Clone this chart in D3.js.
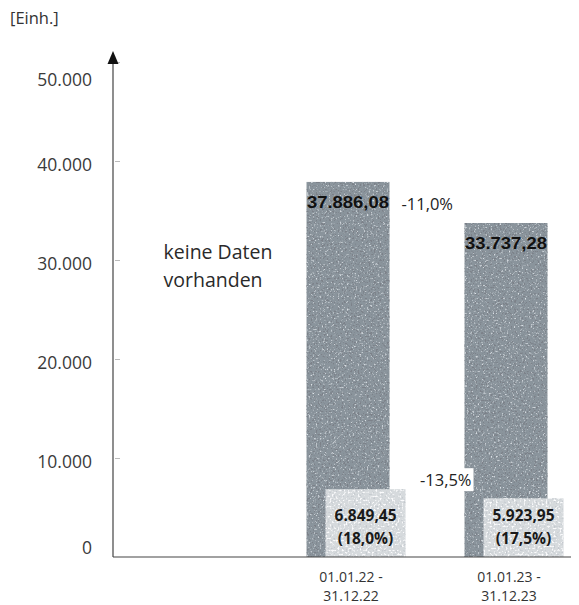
<!DOCTYPE html>
<html>
<head>
<meta charset="utf-8">
<script src="https://cdn.jsdelivr.net/npm/d3@7"></script>
<style>
  html, body { margin: 0; padding: 0; background: #fff; }
  svg { display: block; font-family: "Open Sans", "DejaVu Sans", sans-serif; }
</style>
</head>
<body>
<svg id="chart" width="579" height="605"></svg>
<script>
// Zeiträume (erster ohne Daten)
const categories = ["ohne", "01.01.22 - 31.12.22", "01.01.23 - 31.12.23"];
const totals = [null, 37886.08, 33737.28];
const subValues = [null, 6849.45, 5923.95];
const shareLabels = [null, "(18,0%)", "(17,5%)"];
const totalChange = "-11,0%";
const subChange = "-13,5%";
const noDataText = ["keine Daten", "vorhanden"];
const yTicks = [0, 10000, 20000, 30000, 40000, 50000];
const unitLabel = "[Einh.]";

const de = d3.formatLocale({ decimal: ",", thousands: ".", grouping: [3], currency: ["", " €"] });
const fmtTick = de.format(",.0f");
const fmtVal = de.format(",.2f");

const svg = d3.select("#chart");
const x0 = 113, y0 = 557;

const x = d3.scaleBand().domain(categories).range([111, 585])
  .paddingInner(0.475).paddingOuter(0.2375);
const y = d3.scaleLinear().domain([0, 50000]).range([y0, 62]);
const bw = x.bandwidth();

// speckle filters for the printed look of the bars
const defs = svg.append("defs");
function grain(id, freq, seed, dark, darkA, light, lightA) {
  const f = defs.append("filter").attr("id", id).attr("x", 0).attr("y", 0).attr("width", 1).attr("height", 1);
  f.append("feTurbulence").attr("type", "fractalNoise").attr("baseFrequency", freq)
    .attr("numOctaves", 2).attr("seed", seed).attr("result", "noise");
  f.append("feColorMatrix").attr("in", "noise").attr("type", "matrix")
    .attr("values", `0 0 0 0 ${dark[0]}  0 0 0 0 ${dark[1]}  0 0 0 0 ${dark[2]}  ${darkA[0]} 0 0 0 ${darkA[1]}`).attr("result", "d");
  f.append("feColorMatrix").attr("in", "noise").attr("type", "matrix")
    .attr("values", `0 0 0 0 ${light[0]}  0 0 0 0 ${light[1]}  0 0 0 0 ${light[2]}  0 ${lightA[0]} 0 0 ${lightA[1]}`).attr("result", "l");
  f.append("feComposite").attr("in", "d").attr("in2", "SourceGraphic").attr("operator", "in").attr("result", "dIn");
  f.append("feComposite").attr("in", "l").attr("in2", "SourceGraphic").attr("operator", "in").attr("result", "lIn");
  const m = f.append("feMerge");
  m.append("feMergeNode").attr("in", "SourceGraphic");
  m.append("feMergeNode").attr("in", "lIn");
  m.append("feMergeNode").attr("in", "dIn");
}
grain("grainBar", 0.55, 7, [0.2, 0.22, 0.25], [9, -5.2], [0.72, 0.76, 0.8], [4, -2.4]);
grain("grainBox", 0.5, 3, [0.55, 0.58, 0.62], [6, -3.5], [0.97, 0.97, 0.98], [5, -2.6]);

const data = categories.map((c, i) => ({ c, total: totals[i], sub: subValues[i], share: shareLabels[i] }));
const withData = data.filter(d => d.total != null);

// main bars
svg.append("g").selectAll("rect").data(withData).join("rect")
  .attr("x", d => x(d.c)).attr("width", bw)
  .attr("y", d => y(d.total)).attr("height", d => y(0) - y(d.total))
  .attr("fill", "#8a949c").attr("filter", "url(#grainBar)");

// sub-value boxes
const subOff = 19, subW = 80;
svg.append("g").selectAll("rect").data(withData).join("rect")
  .attr("x", d => x(d.c) + subOff).attr("width", subW)
  .attr("y", d => y(d.sub)).attr("height", d => y(0) - y(d.sub))
  .attr("fill", "#d6dadd").attr("filter", "url(#grainBox)");

// y axis
const yAxis = d3.axisLeft(y).tickValues(yTicks).tickFormat(fmtTick).tickSize(0).tickPadding(21);
const ga = svg.append("g").attr("transform", `translate(${x0},0)`).call(yAxis);
ga.select(".domain").remove();
ga.selectAll("text").attr("font-size", 17.5).attr("fill", "#3a3a3a")
  .attr("font-family", "'Open Sans', sans-serif")
  .attr("dy", d => d === 0 ? "-0.2em" : d === 50000 ? "1.35em" : "0.55em");
ga.selectAll(".tick").filter(d => d > 0).append("line")
  .attr("x1", 2).attr("x2", 7).attr("stroke", "#bbb").attr("stroke-width", 1);

// axis lines
svg.append("line").attr("x1", x0).attr("x2", x0).attr("y1", y0).attr("y2", 60)
  .attr("stroke", "#444").attr("stroke-width", 1.2);
svg.append("line").attr("x1", x0).attr("x2", 571).attr("y1", y0).attr("y2", y0)
  .attr("stroke", "#444").attr("stroke-width", 1.2);
svg.append("path").attr("d", `M${x0},51 L${x0 - 5.5},64 L${x0 + 5.5},64 Z`).attr("fill", "#111");

svg.append("text").attr("x", 10).attr("y", 24).attr("font-size", 16.5).attr("fill", "#333").text(unitLabel);

// category labels
const gx = svg.append("g");
withData.forEach(d => {
  const parts = d.c.split(" - ");
  const cx = x(d.c) + bw / 2 + 3;
  gx.append("text").attr("x", cx).attr("y", 582).attr("text-anchor", "middle")
    .attr("font-size", 14).attr("fill", "#333").text(parts[0] + " -");
  gx.append("text").attr("x", cx).attr("y", 601).attr("text-anchor", "middle")
    .attr("font-size", 14).attr("fill", "#333").text(parts[1]);
});

// empty period note
const empty = data.find(d => d.total == null);
noDataText.forEach((t, i) => {
  svg.append("text").attr("x", x(empty.c) + 15).attr("y", 259 + i * 28)
    .attr("font-size", 19.5).attr("fill", "#2a2a2a").text(t);
});

// value labels on bars
svg.append("g").selectAll("text").data(withData).join("text")
  .attr("x", d => x(d.c) + bw / 2).attr("y", d => y(d.total) + 26)
  .attr("text-anchor", "middle").attr("font-size", 16).attr("font-weight", "bold")
  .attr("fill", "#111").attr("font-family", "'Liberation Sans', Arial, sans-serif")
  .attr("textLength", bw - 1).attr("lengthAdjust", "spacingAndGlyphs")
  .text(d => fmtVal(d.total));

// sub values with shares
const gs = svg.append("g");
withData.forEach(d => {
  const cx = x(d.c) + subOff + subW / 2;
  gs.append("text").attr("x", cx).attr("y", y(0) - 36).attr("text-anchor", "middle")
    .attr("font-size", 15.5).attr("font-weight", "bold").attr("fill", "#1a1a1a").text(fmtVal(d.sub));
  gs.append("text").attr("x", cx).attr("y", y(0) - 13).attr("text-anchor", "middle")
    .attr("font-size", 15.5).attr("font-weight", "bold").attr("fill", "#1a1a1a").text(d.share);
});

// change labels
const [a, b] = withData;
svg.append("text").attr("x", x(a.c) + bw + 12).attr("y", y(a.total) + 28)
  .attr("font-size", 16.5).attr("fill", "#222").text(totalChange);

const chX = x(b.c) + 7, chY = y(a.sub) - 3;
const chText = svg.append("text").attr("x", chX).attr("y", chY).attr("text-anchor", "end")
  .attr("font-size", 16.5).attr("fill", "#222").text(subChange);
const bb = chText.node().getBBox();
svg.insert("rect", () => chText.node()).attr("x", bb.x - 2).attr("y", bb.y).attr("width", bb.width + 4)
  .attr("height", bb.height).attr("fill", "#fff");
</script>
</body>
</html>
